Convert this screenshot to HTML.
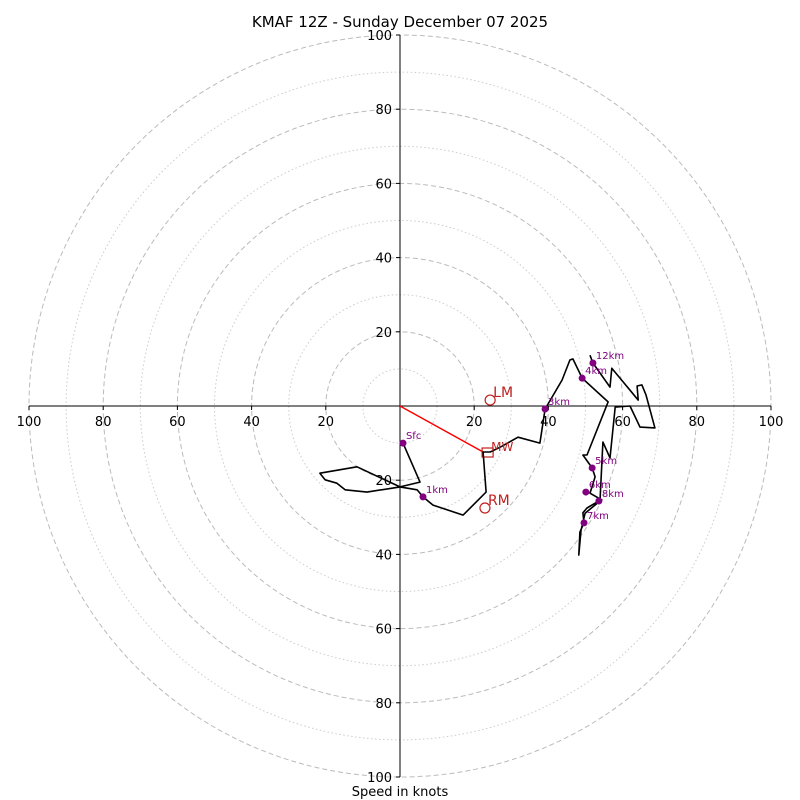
<!DOCTYPE html>
<html><head><meta charset="utf-8"><style>
body{margin:0;background:#fff}
svg{display:block;font-family:"DejaVu Sans","Liberation Sans",sans-serif}
</style></head><body>
<svg id="c" width="800" height="800">
<text x="400" y="27" text-anchor="middle" font-size="15">KMAF 12Z - Sunday December 07 2025</text>
<text x="400" y="796" text-anchor="middle" font-size="13">Speed in knots</text>
<g id="grid"></g><g id="axes"></g><g id="trace"></g>
</svg>
<script>
const ringVals=[10,20,30,40,50,60,70,80,90,100];
const tickVals=[20,40,60,80,100];
const traceU=[0.8,5.4,0,-8.9,-14.8,-17.0,-20.2,-21.6,-11.6,0,4.6,6.2,8.9,17.0,23.2,22.4,24.3,27.0,31.8,37.7,39.1,43.7,45.8,46.6,49.1,56.1,50.4,49.3,51.8,52.6,51.2,54.4,53.1,50.4,49.3,49.6,48.5,48.2,48.8,49.9,53.9,54.7,56.6,58.0,62.0,64.7,68.7,66.3,65.2,63.9,64.2,57.1,56.6,52.0,51.2];
const traceV=[-10.0,-20.5,-21.8,-23.2,-22.6,-20.8,-19.9,-18.1,-16.4,-21.8,-22.6,-24.5,-26.7,-29.4,-23.2,-12.4,-12.4,-11.1,-8.4,-10.0,-0.8,7.0,12.4,12.7,7.5,1.1,-13.2,-13.2,-16.7,-19.1,-23.5,-25.3,-25.9,-27.5,-28.8,-31.5,-34.0,-40.2,-33.5,-28.9,-25.6,-9.7,-14.0,-0.3,0,-5.7,-5.9,3.0,5.7,5.4,1.6,10.2,5.1,11.6,13.7];
const markLabels=["Sfc","1km","3km","4km","5km","6km","7km","8km","12km"];
const markU=[0.8,6.2,39.1,49.1,51.8,50.1,49.6,53.6,52.0];
const markV=[-10.0,-24.5,-0.8,7.5,-16.7,-23.2,-31.5,-25.6,11.6];
const stormLabels=["LM","RM"];
const stormU=[24.3,22.9];
const stormV=[1.6,-27.5];
const meanWindU=[22.4];
const meanWindV=[-12.4];
const cx=400,cy=406,s=3.71;
const X=u=>cx+u*s, Y=v=>cy-v*s;
const NS="http://www.w3.org/2000/svg";
function mk(p,t,a){const e=document.createElementNS(NS,t);for(const k in a)e.setAttribute(k,a[k]);p.appendChild(e);return e;}
const grid=document.getElementById('grid'),axes=document.getElementById('axes'),tr=document.getElementById('trace');
ringVals.forEach(r=>{const major=r%20===0;
const c=mk(grid,'circle',{cx:cx,cy:cy,r:r*s,fill:'none',stroke:major?'#bbb':'#ccc','stroke-width':1,'stroke-dasharray':major?'5,3':'1.5,2.5'});

});
const hx=mk(axes,'line',{x1:X(-100),y1:cy,x2:X(100),y2:cy,stroke:'#000'});


const vy=mk(axes,'line',{x1:cx,y1:Y(100),x2:cx,y2:Y(-100),stroke:'#000'});


tickVals.forEach(t=>{[-1,1].forEach(sg=>{
const tx=mk(axes,'text',{x:X(sg*t),y:cy+20,'text-anchor':'middle','font-size':13});tx.textContent=t;


mk(axes,'line',{x1:X(sg*t),y1:cy,x2:X(sg*t),y2:cy+4,stroke:'#000'});
const ty=mk(axes,'text',{x:cx-8,y:Y(sg*t)+5,'text-anchor':'end','font-size':13});ty.textContent=t;


mk(axes,'line',{x1:cx-4,y1:Y(sg*t),x2:cx,y2:Y(sg*t),stroke:'#000'});});});
const mw=mk(tr,'line',{x1:X(0),y1:Y(0),x2:X(meanWindU[0]),y2:Y(meanWindV[0]),stroke:'red','stroke-width':1.5});


const sq=mk(tr,'rect',{x:X(meanWindU[0])-1,y:Y(meanWindV[0])-4,width:11,height:9,fill:'none',stroke:'#c02020','stroke-width':1.2});


let d='';traceU.forEach((u,i)=>{d+=(i?'L':'M')+X(u).toFixed(1)+','+Y(traceV[i]).toFixed(1);});
const p=mk(tr,'path',{d:d,fill:'none',stroke:'#000','stroke-width':1.6,'stroke-linejoin':'round'});


markLabels.forEach((l,i)=>{
const c=mk(tr,'circle',{cx:X(markU[i]),cy:Y(markV[i]),r:3.5,fill:'#800080'});


const t=mk(tr,'text',{x:X(markU[i])+3,y:Y(markV[i])-4,'font-size':10,fill:'#800080'});t.textContent=l;

});
const mwl=mk(tr,'text',{x:X(meanWindU[0])+8,y:Y(meanWindV[0])-1,'font-size':12,fill:'#c02020'});mwl.textContent='MW';


stormLabels.forEach((l,i)=>{
const c=mk(tr,'circle',{cx:X(stormU[i]),cy:Y(stormV[i]),r:5,fill:'none',stroke:'#c02020','stroke-width':1.2});


const t=mk(tr,'text',{x:X(stormU[i])+3,y:Y(stormV[i])-3,'font-size':14,fill:'#c02020'});t.textContent=l;

});
</script>
</body></html>
